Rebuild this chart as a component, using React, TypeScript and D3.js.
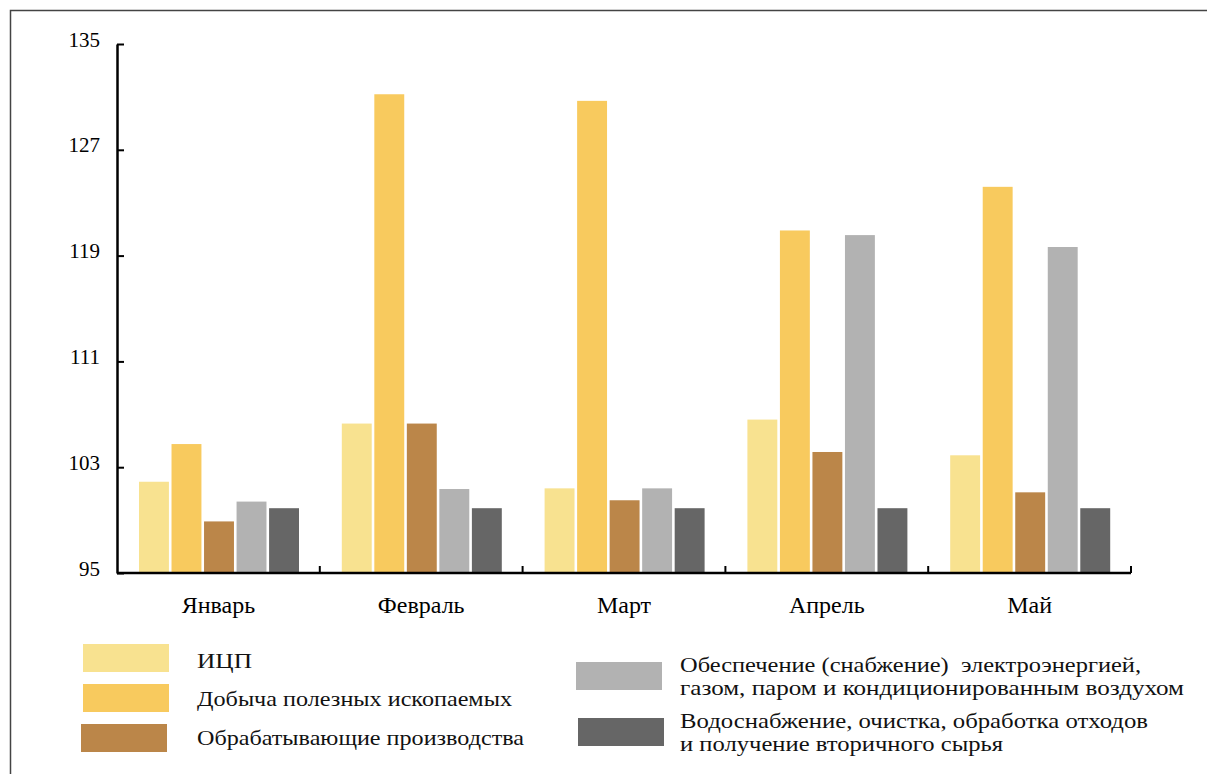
import React, { useEffect, useRef } from "react";
import * as d3 from "d3";

const WIDTH = 1207;
const HEIGHT = 774;

// данные по месяцам
const months = ["Январь", "Февраль", "Март", "Апрель", "Май"];
const icp = [101.9, 106.3, 101.4, 106.6, 103.9];
const mining = [104.75, 131.2, 130.7, 120.9, 124.2];
const manufacturing = [98.9, 106.3, 100.5, 104.15, 101.1];
const energy = [100.4, 101.35, 101.4, 120.55, 119.65];
const water = [99.9, 99.9, 99.9, 99.9, 99.9];
const yTicks = [95, 103, 111, 119, 127, 135];

const seriesNames = [
  "ИЦП",
  "Добыча полезных ископаемых",
  "Обрабатывающие производства",
  "Обеспечение (снабжение) электроэнергией, газом, паром и кондиционированным воздухом",
  "Водоснабжение, очистка, обработка отходов и получение вторичного сырья",
];
const seriesValues = [icp, mining, manufacturing, energy, water];
const colors = ["#F8E290", "#F8CA5E", "#BB8649", "#B2B2B2", "#666666"];

const FONT = '"Liberation Serif", "Times New Roman", "DejaVu Serif", serif';

const App: React.FC = () => {
  const ref = useRef<SVGSVGElement | null>(null);

  useEffect(() => {
    if (!ref.current) return;
    const svg = d3.select(ref.current);
    svg.selectAll("*").remove();

    // рамка
    svg
      .append("rect")
      .attr("x", 10.5)
      .attr("y", 10.5)
      .attr("width", 1400)
      .attr("height", 1000)
      .attr("fill", "none")
      .attr("stroke", "#444")
      .attr("stroke-width", 1.5);

    const left = 117;
    const right = 1131;
    const top = 44;
    const bottom = 573;

    const x0 = d3.scaleBand<string>().domain(months).range([left, right]).padding(0);
    const x1 = d3
      .scaleBand<number>()
      .domain(d3.range(seriesValues.length))
      .range([22, 182])
      .paddingInner(0.08)
      .paddingOuter(0);
    const y = d3.scaleLinear().domain([95, 135]).range([bottom, top]);

    // столбцы
    const groups = svg
      .append("g")
      .selectAll("g")
      .data(months)
      .enter()
      .append("g")
      .attr("transform", (m) => `translate(${x0(m)},0)`);

    groups
      .selectAll("rect")
      .data((_, mi) => seriesValues.map((s, si) => ({ si, v: s[mi] })))
      .enter()
      .append("rect")
      .attr("x", (d) => x1(d.si) || 0)
      .attr("y", (d) => y(d.v))
      .attr("width", x1.bandwidth())
      .attr("height", (d) => bottom - y(d.v))
      .attr("fill", (d) => colors[d.si]);

    // ось Y
    const yAxis = d3
      .axisLeft(y)
      .tickValues(yTicks)
      .tickSizeInner(-7)
      .tickSizeOuter(0)
      .tickPadding(17)
      .tickFormat((d) => String(d));
    const gy = svg.append("g").attr("transform", `translate(${left},0)`).call(yAxis);
    gy.attr("font-family", null).attr("font-size", null);
    gy.select(".domain").attr("stroke", "#000").attr("stroke-width", 2.5);
    gy.selectAll(".tick line").attr("stroke", "#000").attr("stroke-width", 2);
    gy.selectAll(".tick text")
      .style("font-family", FONT)
      .style("font-size", "21px")
      .attr("fill", "#000")
      .attr("dy", "0.1em");

    // ось X
    svg
      .append("line")
      .attr("x1", left)
      .attr("x2", right)
      .attr("y1", bottom)
      .attr("y2", bottom)
      .attr("stroke", "#000")
      .attr("stroke-width", 2.5);
    svg
      .append("g")
      .selectAll("line")
      .data(months)
      .enter()
      .append("line")
      .attr("x1", (m) => (x0(m) || 0) + x0.bandwidth())
      .attr("x2", (m) => (x0(m) || 0) + x0.bandwidth())
      .attr("y1", bottom)
      .attr("y2", bottom - 7)
      .attr("stroke", "#000")
      .attr("stroke-width", 2);
    svg
      .append("g")
      .selectAll("text")
      .data(months)
      .enter()
      .append("text")
      .attr("x", (m) => (x0(m) || 0) + x0.bandwidth() / 2)
      .attr("y", 613)
      .attr("text-anchor", "middle")
      .style("font-family", FONT)
      .style("font-size", "24px")
      .text((m) => m);

    // легенда
    const legendItems = [
      { i: 0, x: 83, y: 644, tx: 197, lines: ["ИЦП"], ty: [668], tw: [55] },
      { i: 1, x: 83, y: 684, tx: 197, lines: ["Добыча полезных ископаемых"], ty: [706], tw: [315] },
      { i: 2, x: 81, y: 724, tx: 197, lines: ["Обрабатывающие производства"], ty: [745], tw: [327] },
      {
        i: 3,
        x: 576,
        y: 662,
        tx: 680,
        lines: ["Обеспечение (снабжение)  электроэнергией,", "газом, паром и кондиционированным воздухом"],
        ty: [672, 695],
        tw: [461, 504],
      },
      {
        i: 4,
        x: 578,
        y: 718,
        tx: 680,
        lines: ["Водоснабжение, очистка, обработка отходов", "и получение вторичного сырья"],
        ty: [728, 751],
        tw: [468, 323],
      },
    ];
    const lg = svg.append("g");
    legendItems.forEach((item) => {
      lg.append("rect")
        .attr("x", item.x)
        .attr("y", item.y)
        .attr("width", 86)
        .attr("height", 28)
        .attr("fill", colors[item.i])
        .append("title")
        .text(seriesNames[item.i]);
      item.lines.forEach((line, li) => {
        lg.append("text")
          .attr("x", item.tx)
          .attr("y", item.ty[li])
          .attr("textLength", item.tw[li])
          .attr("lengthAdjust", "spacingAndGlyphs")
          .style("font-family", FONT)
          .style("font-size", "22px")
          .style("white-space", "pre")
          .attr("fill", "#111")
          .text(line);
      });
    });
  }, []);

  return (
    <svg
      ref={ref}
      width={WIDTH}
      height={HEIGHT}
      style={{ position: "absolute", left: 0, top: 0, background: "#fff", fontFamily: FONT }}
    />
  );
};

export default App;
